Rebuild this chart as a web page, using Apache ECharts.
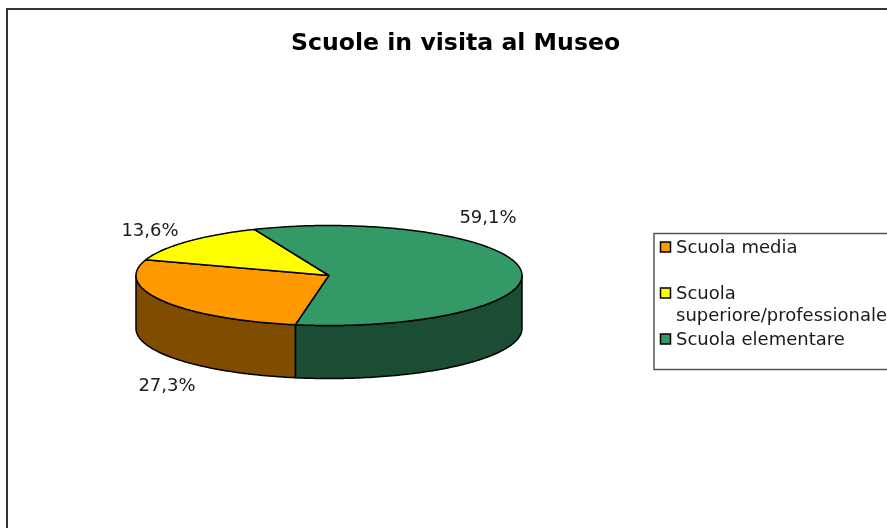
<!DOCTYPE html>
<html>
<head>
<meta charset="utf-8">
<title>Scuole in visita al Museo</title>
<script src="https://cdn.jsdelivr.net/npm/echarts@6/dist/echarts.min.js"></script>
<style>
  html, body { margin: 0; padding: 0; background: #fff; }
  #chart { width: 887px; height: 528px; }
</style>
</head>
<body>
<div id="chart"></div>
<script>
const categories = ['Scuola media', 'Scuola\nsuperiore/professionale', 'Scuola elementare'];
const shares = [27.3, 13.6, 59.1];
const topColors = ['#FF9900', '#FFFF00', '#339966'];
const sideColors = ['#804D00', '#808000', '#1A4D33'];

// Layout of the tilted pie
const cx = 329, cy = 275.5, rx = 193, ry = 50, depth = 53;
const startAngle = 190; // clockwise from the top, where the first slice begins
const labelPos = [[167, 386], [150, 231], [488, 218]];
const legendY = [247, 293, 339];
const font = '"DejaVu Sans", Verdana, sans-serif';

const total = shares.reduce((a, b) => a + b, 0);

const rimPoint = (deg, drop) => {
  const t = (deg * Math.PI) / 180;
  return [cx + rx * Math.sin(t), cy - ry * Math.cos(t) + drop];
};

const rimPoints = (from, to, drop) => {
  const pts = [];
  const steps = Math.max(2, Math.ceil(to - from));
  for (let i = 0; i <= steps; i++) pts.push(rimPoint(from + ((to - from) * i) / steps, drop));
  return pts;
};

const renderSlice = (params, api) => {
  const i = params.dataIndex;
  const before = shares.slice(0, i).reduce((a, b) => a + b, 0);
  const from = startAngle + (before / total) * 360;
  const to = from + (api.value(0) / total) * 360;
  const children = [];
  const line = { stroke: '#000', lineWidth: 1.5, lineJoin: 'round' };

  // Wall: only the front half of the rim (90..270 degrees) can be seen
  [0, 360].forEach((turn) => {
    const lo = Math.max(from, 90 + turn);
    const hi = Math.min(to, 270 + turn);
    if (hi <= lo) return;
    children.push({
      type: 'polygon',
      z2: 1,
      shape: { points: rimPoints(lo, hi, 0).concat(rimPoints(lo, hi, depth).reverse()) },
      style: { fill: sideColors[i], ...line },
    });
  });

  children.push({
    type: 'polygon',
    z2: 2,
    shape: { points: [[cx, cy]].concat(rimPoints(from, to, 0)) },
    style: { fill: topColors[i], ...line },
  });

  children.push({
    type: 'text',
    z2: 3,
    x: labelPos[i][0],
    y: labelPos[i][1],
    style: {
      text: api.value(0).toFixed(1).replace('.', ',') + '%',
      fill: '#1a1a1a',
      font: '18px ' + font,
      align: 'center',
      verticalAlign: 'middle',
    },
  });

  return { type: 'group', children };
};

const legendItems = categories.flatMap((name, i) => [
  {
    type: 'rect',
    shape: { x: 660.5, y: legendY[i] - 5, width: 10, height: 10 },
    style: { fill: topColors[i], stroke: '#000', lineWidth: 1.5 },
  },
  {
    type: 'text',
    x: 676,
    y: legendY[i] - 10,
    style: { text: name, fill: '#1a1a1a', font: '18px ' + font, lineHeight: 22 },
  },
]);

const chart = echarts.init(document.getElementById('chart'), null, { renderer: 'canvas' });
chart.setOption({
  animation: false,
  backgroundColor: '#fff',
  title: {
    text: 'Scuole in visita al Museo',
    left: 286,
    top: 27,
    textStyle: { fontFamily: font, fontSize: 23.6, fontWeight: 'bold', color: '#000' },
  },
  graphic: [
    {
      type: 'polyline',
      shape: { points: [[7, 528], [7, 9], [887, 9]] },
      style: { stroke: '#333', lineWidth: 2, fill: null },
    },
    {
      type: 'rect',
      shape: { x: 654, y: 233.5, width: 300, height: 136 },
      style: { fill: '#fff', stroke: '#555', lineWidth: 1.5 },
    },
    ...legendItems,
  ],
  series: [
    {
      type: 'custom',
      coordinateSystem: 'none',
      data: shares.map((v) => [v]),
      renderItem: renderSlice,
    },
  ],
});
</script>
</body>
</html>
